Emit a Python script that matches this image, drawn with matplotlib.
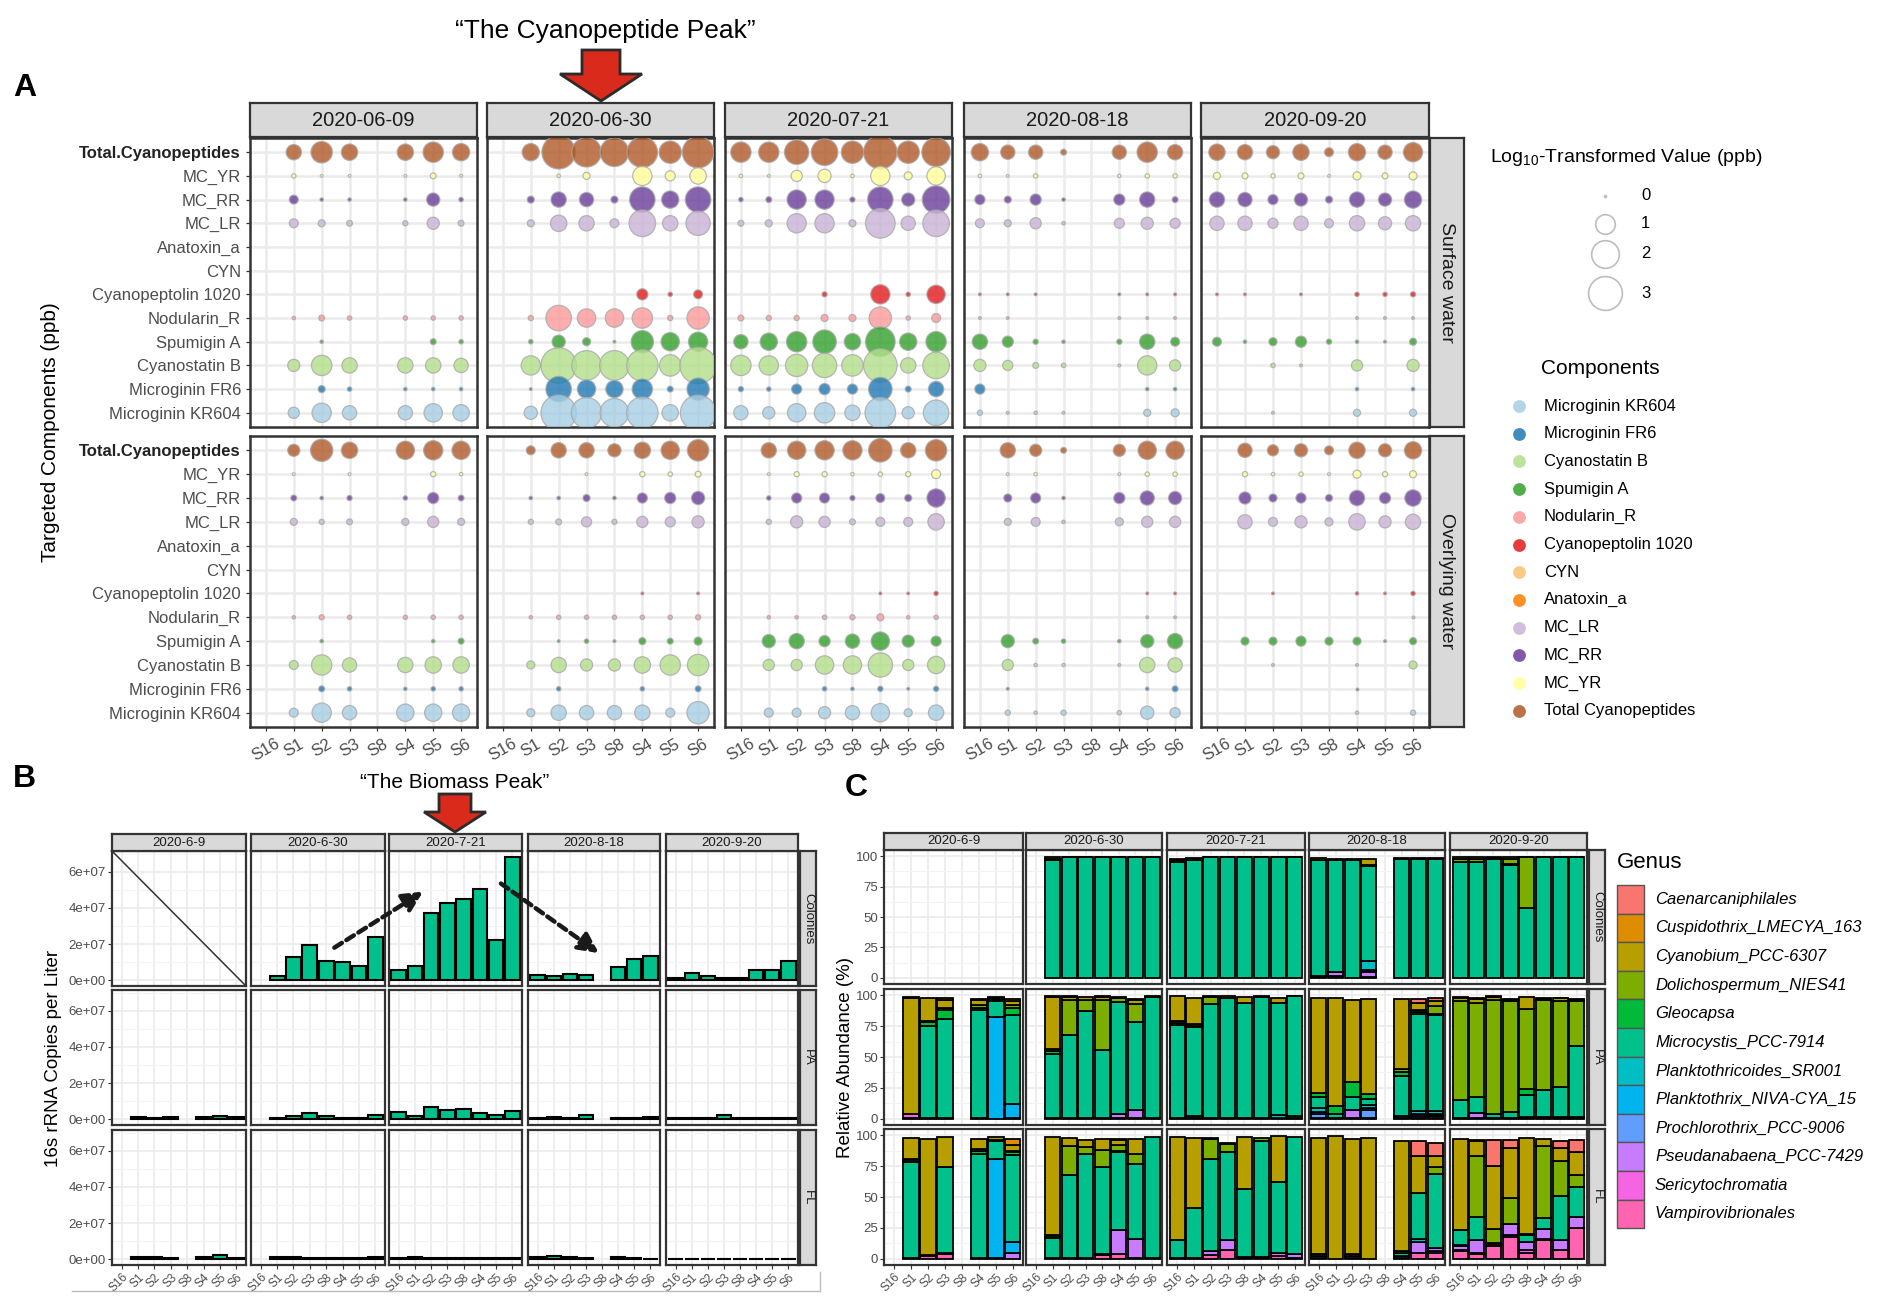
import numpy as np
import matplotlib
matplotlib.use("Agg")
import matplotlib.pyplot as plt
from matplotlib.patches import Polygon, Rectangle

plt.rcParams["font.family"] = ["Liberation Sans", "DejaVu Sans"]
plt.rcParams["mathtext.default"] = "regular"

W, H = 1903, 1301
n = np.nan

sites = ["S16", "S1", "S2", "S3", "S8", "S4", "S5", "S6"]
dates_a = ["2020-06-09", "2020-06-30", "2020-07-21", "2020-08-18", "2020-09-20"]
dates_bc = ["2020-6-9", "2020-6-30", "2020-7-21", "2020-8-18", "2020-9-20"]
waters = ["Surface water", "Overlying water"]
fractions = ["Colonies", "PA", "FL"]

components = ["Total.Cyanopeptides", "MC_YR", "MC_RR", "MC_LR", "Anatoxin_a", "CYN",
              "Cyanopeptolin 1020", "Nodularin_R", "Spumigin A", "Cyanostatin B",
              "Microginin FR6", "Microginin KR604"]
comp_colors = {"Microginin KR604": "#A6CEE3", "Microginin FR6": "#1F78B4",
               "Cyanostatin B": "#B2DF8A", "Spumigin A": "#33A02C",
               "Nodularin_R": "#FB9A99", "Cyanopeptolin 1020": "#E31A1C",
               "CYN": "#FDBF6F", "Anatoxin_a": "#FF7F00", "MC_LR": "#CAB2D6",
               "MC_RR": "#6A3D9A", "MC_YR": "#FFFF99", "Total.Cyanopeptides": "#B15928"}
comp_legend = ["Microginin KR604", "Microginin FR6", "Cyanostatin B", "Spumigin A",
               "Nodularin_R", "Cyanopeptolin 1020", "CYN", "Anatoxin_a", "MC_LR",
               "MC_RR", "MC_YR", "Total.Cyanopeptides"]
size_breaks = [0, 1, 2, 3]

# ---- panel A: log10 values (ppb), site order as in `sites`
surf_0609 = {
    "Total.Cyanopeptides": [n, .61, 1.2, .7, n, .7, 1.08, .78],
    "MC_YR": [n, .04, .01, .01, n, .01, .08, .01],
    "MC_RR": [n, .2, .02, .02, n, .02, .45, .04],
    "MC_LR": [n, .2, .12, .08, n, .06, .38, .08],
    "Nodularin_R": [n, .02, .08, .04, n, .04, .04, .04],
    "Spumigin A": [n, 0, .02, 0, n, 0, .08, .04],
    "Cyanostatin B": [n, .38, 1.08, .61, n, .61, .61, .53],
    "Microginin FR6": [n, 0, .12, .04, n, .02, .02, .02],
    "Microginin KR604": [n, .32, .97, .53, n, .53, .88, .7],
}
surf_0630 = {
    "Total.Cyanopeptides": [n, .78, 2.95, 2.3, 2.15, 2.45, 1.3, 2.6],
    "MC_YR": [n, 0, .02, .12, 0, .97, .26, .7],
    "MC_RR": [n, .12, .61, .53, .12, 1.7, .78, 1.7],
    "MC_LR": [n, .12, .7, .61, .2, 1.85, .61, 1.55],
    "Cyanopeptolin 1020": [n, 0, 0, 0, 0, .32, .04, .2],
    "Nodularin_R": [n, .06, 1.7, .88, .88, 1.08, .06, 1.3],
    "Spumigin A": [n, .04, .45, .16, .01, 1.3, .88, .97],
    "Cyanostatin B": [n, .97, 3.3, 2.3, 2.3, 2.6, 1.2, 3.5],
    "Microginin FR6": [n, .01, 1.7, .88, .78, 1.08, .08, 1.3],
    "Microginin KR604": [n, .45, 3.3, 2.45, 2.15, 2.6, .7, 3.3],
}
surf_0721 = {
    "Total.Cyanopeptides": [1.08, 1.08, 1.55, 1.85, 1.3, 2.95, 1.3, 2.15],
    "MC_YR": [.02, .01, .32, .45, .02, .97, .16, .88],
    "MC_RR": [.04, .08, .97, .97, .06, 1.7, .45, 2.0],
    "MC_LR": [.08, .12, .97, .97, .12, 2.3, .53, 1.85],
    "Cyanopeptolin 1020": [0, 0, 0, .06, 0, .97, .04, .88],
    "Nodularin_R": [.08, .06, .06, .12, .12, 1.3, .04, .2],
    "Spumigin A": [.53, .78, 1.08, 1.45, .7, 2.3, .78, 1.08],
    "Cyanostatin B": [1.08, .97, 1.3, 1.55, 1.2, 2.95, .61, 1.85],
    "Microginin FR6": [.06, .04, .26, .32, .26, 1.45, .08, .61],
    "Microginin KR604": [.53, .38, .88, 1.08, .61, 2.45, .38, 1.7],
}
surf_0818 = {
    "Total.Cyanopeptides": [.78, .53, .53, .08, n, .53, 1.08, .61],
    "MC_YR": [.02, .01, .04, 0, n, .02, .04, .04],
    "MC_RR": [.26, .12, .32, .02, n, .32, .61, .08],
    "MC_LR": [.2, .12, .32, .02, n, .26, .38, .26],
    "Cyanopeptolin 1020": [.01, .01, .01, 0, n, .01, .01, .01],
    "Nodularin_R": [.01, .01, 0, 0, n, .01, .01, .01],
    "Spumigin A": [.61, .32, .06, .02, n, .06, .61, .2],
    "Cyanostatin B": [.38, .26, .08, .04, n, .01, .97, .32],
    "Microginin FR6": [.26, 0, 0, 0, n, 0, .02, .02],
    "Microginin KR604": [.06, .01, .02, .01, n, 0, .12, .16],
}
surf_0920 = {
    "Total.Cyanopeptides": [.7, .61, .45, .7, .2, .78, .53, .97],
    "MC_YR": [.12, .08, .04, .08, .01, .16, .08, .16],
    "MC_RR": [.61, .53, .26, .45, .12, .61, .45, .78],
    "MC_LR": [.53, .53, .26, .53, .2, .61, .45, .61],
    "Cyanopeptolin 1020": [.01, .01, 0, .01, 0, .04, .04, .06],
    "Nodularin_R": [0, 0, 0, 0, 0, .01, .01, .01],
    "Spumigin A": [.2, .02, .16, .32, .06, .02, .01, .12],
    "Cyanostatin B": [0, 0, .04, .01, 0, .32, 0, .38],
    "Microginin FR6": [0, 0, 0, 0, 0, .02, 0, .02],
    "Microginin KR604": [0, 0, .01, 0, 0, .12, 0, .12],
}
over_0609 = {
    "Total.Cyanopeptides": [n, .38, 1.3, .7, n, .88, .97, .88],
    "MC_YR": [n, .01, 0, .01, n, 0, .06, .02],
    "MC_RR": [n, .08, .02, .06, n, .04, .32, .08],
    "MC_LR": [n, .12, .06, .08, n, .12, .32, .12],
    "Nodularin_R": [n, .02, .06, .04, n, .04, .04, .04],
    "Spumigin A": [n, 0, .02, 0, n, 0, .02, .08],
    "Cyanostatin B": [n, .2, 1.08, .53, n, .61, .7, .7],
    "Microginin FR6": [n, 0, .08, .04, n, .02, .04, .04],
    "Microginin KR604": [n, .2, .97, .53, n, .78, .78, .78],
}
over_0630 = {
    "Total.Cyanopeptides": [n, .2, .61, .61, .45, .7, .88, 1.2],
    "MC_YR": [n, 0, 0, .01, 0, .06, .04, .08],
    "MC_RR": [n, .02, .02, .12, .02, .26, .32, .45],
    "MC_LR": [n, .06, .08, .26, .06, .32, .26, .38],
    "Cyanopeptolin 1020": [n, 0, 0, 0, 0, .01, 0, .01],
    "Nodularin_R": [n, .02, .04, .04, .04, .04, .04, .06],
    "Spumigin A": [n, 0, .01, .04, .01, .12, .08, .16],
    "Cyanostatin B": [n, .16, .61, .38, .38, .7, 1.08, 1.2],
    "Microginin FR6": [n, 0, .04, 0, 0, .04, 0, .08],
    "Microginin KR604": [n, .16, .61, .53, .53, .61, .2, 1.3],
}
over_0721 = {
    "Total.Cyanopeptides": [n, .61, .88, .97, .97, 1.45, .61, 1.2],
    "MC_YR": [n, .01, .06, .06, .02, .04, .06, .2],
    "MC_RR": [n, .04, .26, .26, .06, .2, .12, .88],
    "MC_LR": [n, .06, .38, .32, .08, .2, .2, .7],
    "Cyanopeptolin 1020": [n, 0, 0, 0, 0, .01, .01, .04],
    "Nodularin_R": [n, .02, .02, .04, .06, .12, .02, .04],
    "Spumigin A": [n, .45, .61, .32, .53, .88, .38, .26],
    "Cyanostatin B": [n, .32, .32, .88, .88, 1.55, .32, .78],
    "Microginin FR6": [n, 0, 0, .04, .02, .06, .01, .06],
    "Microginin KR604": [n, .2, .2, .38, .53, .88, .16, .61],
}
over_0818 = {
    "Total.Cyanopeptides": [n, .61, .38, .08, n, .38, .88, .88],
    "MC_YR": [n, .01, .02, 0, n, .01, .04, .04],
    "MC_RR": [n, .16, .26, .02, n, .32, .53, .45],
    "MC_LR": [n, .12, .2, .02, n, .16, .32, .32],
    "Cyanopeptolin 1020": [n, 0, 0, 0, n, 0, .01, .01],
    "Nodularin_R": [n, 0, 0, 0, n, 0, .01, .01],
    "Spumigin A": [n, .45, .08, .04, n, .02, .45, .61],
    "Cyanostatin B": [n, .32, .02, .02, n, .01, .61, .53],
    "Microginin FR6": [n, .01, 0, 0, n, 0, .02, .08],
    "Microginin KR604": [n, .06, .02, .06, n, .04, .45, .26],
}
over_0920 = {
    "Total.Cyanopeptides": [n, .53, .32, .45, .2, .7, .45, .78],
    "MC_YR": [n, .06, .02, .04, .01, .16, .06, .12],
    "MC_RR": [n, .38, .16, .26, .12, .61, .32, .7],
    "MC_LR": [n, .53, .2, .38, .16, .7, .38, .61],
    "Cyanopeptolin 1020": [n, 0, .01, 0, 0, .02, .01, .04],
    "Nodularin_R": [n, 0, 0, 0, 0, 0, 0, .01],
    "Spumigin A": [n, .16, .16, .26, .16, .16, .01, .12],
    "Cyanostatin B": [n, 0, .01, 0, 0, .01, 0, .16],
    "Microginin FR6": [n, 0, 0, 0, 0, .01, 0, 0],
    "Microginin KR604": [n, 0, 0, 0, 0, .02, 0, .06],
}
surface = [surf_0609, surf_0630, surf_0721, surf_0818, surf_0920]
overlying = [over_0609, over_0630, over_0721, over_0818, over_0920]

# ---- panel B: 16S rRNA copies per liter
colonies_copies = {
    "2020-6-9": [n, n, n, n, n, n, n, n],
    "2020-6-30": [n, 2.3e6, 1.30e7, 1.97e7, 1.07e7, 1.01e7, 7.7e6, 2.37e7],
    "2020-7-21": [5.7e6, 7.7e6, 3.73e7, 4.29e7, 4.48e7, 5.07e7, 2.24e7, 6.83e7],
    "2020-8-18": [3.1e6, 2.3e6, 3.4e6, 2.7e6, n, 7.1e6, 1.15e7, 1.34e7],
    "2020-9-20": [1.1e6, 3.8e6, 2.3e6, 1.5e6, 1.0e6, 5.9e6, 5.4e6, 1.09e7],
}
pa_copies = {
    "2020-6-9": [n, 1.0e6, 5e5, 1.2e6, n, 1.0e6, 2.0e6, 1.0e6],
    "2020-6-30": [n, 5e5, 2.0e6, 3.5e6, 2.0e6, 5e5, 5e5, 2.5e6],
    "2020-7-21": [4.0e6, 2.0e6, 6.5e6, 5.0e6, 5.5e6, 3.5e6, 2.5e6, 4.5e6],
    "2020-8-18": [5e5, 1.0e6, 5e5, 2.5e6, n, 5e5, 5e5, 1.5e6],
    "2020-9-20": [5e5, 5e5, 5e5, 2.5e6, 5e5, 5e5, 5e5, 5e5],
}
fl_copies = {
    "2020-6-9": [n, 1.0e6, 1.0e6, 5e5, n, 1.0e6, 2.5e6, 8e5],
    "2020-6-30": [n, 1.2e6, 1.2e6, 5e5, 5e5, 5e5, 5e5, 1.0e6],
    "2020-7-21": [8e5, 1.2e6, 7e5, 4e5, 4e5, 4e5, 4e5, 6e5],
    "2020-8-18": [1.5e6, 2.0e6, 1.2e6, 5e5, n, 1.0e6, 5e5, 3e5],
    "2020-9-20": [3e5, 3e5, 3e5, 3e5, 3e5, 3e5, 3e5, 3e5],
}
copies = {"Colonies": colonies_copies, "PA": pa_copies, "FL": fl_copies}

# ---- panel C: relative abundance (%) per genus
genera = ["Caenarcaniphilales", "Cuspidothrix_LMECYA_163", "Cyanobium_PCC-6307",
          "Dolichospermum_NIES41", "Gleocapsa", "Microcystis_PCC-7914",
          "Planktothricoides_SR001", "Planktothrix_NIVA-CYA_15", "Prochlorothrix_PCC-9006",
          "Pseudanabaena_PCC-7429", "Sericytochromatia", "Vampirovibrionales"]
genus_keys = ["Cae", "Cus", "Cyb", "Dol", "Gle", "Mic", "Pts", "Ptx", "Pro", "Pse", "Ser", "Vam"]
genus_colors = ["#F8766D", "#DE8C00", "#B79F00", "#7CAE00", "#00BA38", "#00C08B",
                "#00BFC4", "#00B4F0", "#619CFF", "#C77CFF", "#F564E3", "#FF64B0"]

col_0609 = {}
col_0630 = {"Mic": [0, 97, 99, 99, 99, 99, 99, 99],
            "Dol": [0, 1, 0, 0, 0, 0, 0, 0],
            "Cyb": [0, 1, .5, .5, .5, .5, .5, .5]}
col_0721 = {"Mic": [95, 97, 99, 99, 99, 99, 99, 99],
            "Gle": [1, 0, 0, 0, 0, 0, 0, 0],
            "Dol": [1, .5, 0, 0, 0, 0, 0, 0],
            "Cyb": [1, 1, .5, .5, .5, .5, .5, .5]}
col_0818 = {"Vam": [1, 1.5, 0, 1, 0, 0, 0, 0],
            "Pse": [.5, 3, 0, 3.5, 0, 0, 0, 0],
            "Pro": [0, 0, 0, 1, 0, 0, 0, 0],
            "Ptx": [0, 0, 0, 1, 0, 0, 0, 0],
            "Pts": [0, 0, 0, 7, 0, 0, 0, 0],
            "Mic": [95, 92, 97, 78, 0, 98, 98, 98],
            "Dol": [.5, .5, 0, 1, 0, 0, 0, 0],
            "Cyb": [1.5, 1, .5, 5, 0, .5, .5, .5]}
col_0920 = {"Mic": [95, 95, 98, 93, 57, 99, 99, 99],
            "Gle": [.5, .5, 0, .5, 0, 0, 0, 0],
            "Dol": [2, 2, .5, 4, 42, 0, 0, 0],
            "Cyb": [1.5, 1.5, .5, 1.5, .5, .5, .5, .5]}

pa_0609 = {"Vam": [0, 1, 1, 1, 0, 1, 0, 0],
           "Ser": [0, 2.5, 0, 0, 0, 0, 0, 0],
           "Pse": [0, 0, 0, 0, 0, 0, 0, 1],
           "Ptx": [0, 0, 0, 0, 0, 0, 82, 11],
           "Mic": [0, 0, 74, 80, 0, 87, 13, 72],
           "Gle": [0, 0, 3, 7, 0, 2, 1, 6],
           "Dol": [0, 0, 1, 2, 0, 2, 1, 2],
           "Cyb": [0, 94, 19, 6, 0, 4, 1, 3],
           "Cus": [0, 1, 0, 2, 0, 1, .5, 2]}
pa_0630 = {"Vam": [0, .5, .5, .5, .5, .5, .5, .5],
           "Pse": [0, 0, 0, 0, 0, 3, 7, 0],
           "Mic": [0, 52, 67, 87, 55, 91, 71, 98],
           "Gle": [0, 2, 0, 0, 0, 0, 0, 0],
           "Dol": [0, 2, 29, 9, 41, 3, 14, 0],
           "Cyb": [0, 42, 2, 2, 2, 1, 4, .5],
           "Cus": [0, .5, .5, 0, .5, 0, .5, 0]}
pa_0721 = {"Vam": [1, 1, .5, .5, .5, .5, 1, 1],
           "Pse": [0, 1, 0, 0, 0, 0, 0, 0],
           "Pts": [0, 0, 0, 0, 0, 0, 2, 1],
           "Mic": [75, 72, 92, 97, 93, 98, 91, 97],
           "Gle": [1.5, 1, 0, 0, 0, 0, 0, 0],
           "Dol": [1.5, 2, 6, 0, 0, 0, 0, 0],
           "Cyb": [20, 21, 1, 1.5, 5, .5, 4, .5]}
pa_0818 = {"Vam": [1, 1, .5, 1, 0, .5, 1, 1],
           "Ser": [0, 0, 0, 0, 0, 0, 1, 1],
           "Pse": [0, 0, 7, 0, 0, 1.5, 2, 1],
           "Pro": [3, 0, 0, 6, 0, 0, 0, 0],
           "Ptx": [1.5, 0, 0, 2, 0, 0, 0, 1],
           "Pts": [3, 0, 0, 2, 0, 0, 2, 2],
           "Mic": [9, 3, 10, 5, 0, 33, 79, 78],
           "Gle": [3, 6, 12, 4, 0, 3, 1, 1],
           "Dol": [0, 0, 0, 0, 0, 2, 2, 6],
           "Cyb": [77, 88, 67, 77, 0, 57, 6, 4],
           "Cae": [0, 0, 0, 0, 0, 0, 3, 3]}
pa_0920 = {"Vam": [1, 1, .5, .5, .5, .5, .5, .5],
           "Pse": [0, 4, 0, 0, 1, 1, 1, 1],
           "Mic": [14, 13, 3, 5, 18, 22, 24, 57],
           "Gle": [0, 0, 0, 0, 5, 0, 0, 0],
           "Dol": [80, 76, 93, 90, 64, 73, 70, 37],
           "Cyb": [3, 3, 2, 1, 10, .5, 2, 1],
           "Cus": [.5, .5, .5, .5, 0, .5, .5, .5]}

fl_0609 = {"Vam": [0, .5, 2, 3.5, 0, 1, .5, 0],
           "Ser": [0, 0, 1, 1, 0, 0, 0, 0],
           "Pse": [0, 0, 0, 0, 0, 0, 0, 5],
           "Ptx": [0, 0, 0, 0, 0, 0, 80, 9],
           "Mic": [0, 78, 0, 70, 0, 84, 15, 70],
           "Gle": [0, 1, 0, 0, 0, 2, .5, 2],
           "Dol": [0, 1, 0, 0, 0, 2, .5, 1],
           "Cyb": [0, 17, 94, 24, 0, 8, 2, 5],
           "Cus": [0, 0, 0, 0, 0, 0, 0, 5]}
fl_0630 = {"Vam": [0, .5, .5, .5, 3, 4, 1, .5],
           "Pse": [0, 0, 0, 0, 1, 19, 15, 0],
           "Mic": [0, 16, 67, 84, 70, 63, 61, 98],
           "Gle": [0, 1, 0, 0, 0, 1, 0, 0],
           "Dol": [0, 2, 24, 6, 14, 5, 8, 0],
           "Cyb": [0, 79, 6, 6, 9, 4, 12, 0],
           "Cus": [0, 0, 0, 0, 0, 1, 0, 0]}
fl_0721 = {"Vam": [.5, .5, 3, 7, .5, .5, 2, .5],
           "Ser": [0, 0, 0, 0, 0, .5, 0, 0],
           "Pse": [0, 0, 3, 8, 1, .5, 3, 3],
           "Mic": [15, 41, 75, 71, 55, 94, 57, 95],
           "Dol": [0, 0, 16, 7, 0, 2, 0, 0],
           "Cyb": [83, 56, 1, 1, 42, 0, 37, 0]}
fl_0818 = {"Vam": [1, 0, 1, 0, 0, 1, 5, 5],
           "Ser": [0, 0, 1, 0, 0, 0, 0, 1.5],
           "Pse": [1, 0, 2, 0, 0, 0, 9, 2],
           "Pts": [0, 0, 0, 0, 0, 1, 2, 0],
           "Mic": [2, 0, 0, 0, 0, 3, 37, 60],
           "Gle": [0, 0, 0, 0, 0, 1, 0, 0],
           "Dol": [0, 0, 0, 0, 0, 0, 0, 6],
           "Cyb": [94, 99, 93, 98, 0, 89, 30, 9],
           "Cae": [0, 0, 0, 0, 0, 0, 12, 10]}
fl_0920 = {"Vam": [6, 4, 10, 18, 5, 15, 7, 25],
           "Ser": [1, 1, 1, 1, 2, 1, 0, 0],
           "Pse": [3, 10, 2, 9, 7, 8, 8, 9],
           "Pts": [1, 0, 0, 0, 0, 0, 0, 0],
           "Mic": [12, 19, 0, 0, 5, 9, 36, 24],
           "Dol": [0, 49, 11, 21, 1, 58, 28, 10],
           "Cyb": [74, 12, 51, 41, 78, 6, 11, 18],
           "Cus": [0, 1.5, 0, 0, 0, 0, 0, 0],
           "Cae": [0, 0, 21, 6, 0, 0, 5, 10]}
abundance = {"Colonies": [col_0609, col_0630, col_0721, col_0818, col_0920],
             "PA": [pa_0609, pa_0630, pa_0721, pa_0818, pa_0920],
             "FL": [fl_0609, fl_0630, fl_0721, fl_0818, fl_0920]}

# ---- layout (pixels)
A_cols = [(250, 477), (487, 714), (725, 952), (964, 1191), (1201, 1429)]
A_rows = [(138, 427), (436, 727)]
B_cols = [(112, 246), (251, 385), (389, 522), (528, 660), (666, 798)]
B_rows = [(851, 986), (990, 1125), (1130, 1265)]
C_cols = [(884, 1023), (1026, 1162), (1167, 1305), (1309, 1445), (1450, 1587)]
C_rows = [(850, 984), (989, 1125), (1129, 1265)]

BORDER = "#333333"
GRID = "#EBEBEB"
TICKCOL = "#4D4D4D"

fig = plt.figure(figsize=(W / 100, H / 100), dpi=100)
fig.patch.set_facecolor("white")


def px_axes(x0, y0, x1, y1, **kw):
    return fig.add_axes([x0 / W, 1 - y1 / H, (x1 - x0) / W, (y1 - y0) / H], **kw)


def strip(x0, y0, x1, y1, text, size, rot=0):
    a = px_axes(x0, y0, x1, y1)
    a.set_facecolor("#D9D9D9")
    a.set_xticks([])
    a.set_yticks([])
    for s in a.spines.values():
        s.set_color(BORDER)
        s.set_linewidth(1.6)
    a.text(0.5, 0.5, text, transform=a.transAxes, ha="center", va="center",
           rotation=rot, size=size, color="#1A1A1A")


def frame(ax, lw=1.8):
    for s in ax.spines.values():
        s.set_color(BORDER)
        s.set_linewidth(lw)


def bubble_size(v):
    d_px = np.sqrt(4 + 380 * np.asarray(v, float))
    return (d_px * 0.72) ** 2


def small_xlabels(ax):
    ax.set_xticklabels(sites, rotation=45, ha="right", va="top",
                       rotation_mode="anchor", size=8.5)
    ax.tick_params(axis="x", pad=1.5)


xpos = np.arange(1, 9)

# ================= panel A =================
for r, block in enumerate([surface, overlying]):
    y0, y1 = A_rows[r]
    for c, data in enumerate(block):
        x0, x1 = A_cols[c]
        ax = px_axes(x0, y0, x1, y1)
        ax.set_xlim(0.43, 8.57)
        ax.set_ylim(0.4, 12.6)
        for xv in xpos:
            ax.axvline(xv, color=GRID, lw=1.8, zorder=0)
        for yv in range(1, 13):
            ax.axhline(yv, color=GRID, lw=1.8, zorder=0)
        for k, comp in enumerate(components):
            vals = np.array(data.get(comp, [0] * 8), float)
            m = np.nan_to_num(vals) > 0
            if m.any():
                ax.scatter(xpos[m], np.full(m.sum(), 12 - k), s=bubble_size(vals[m]),
                           c=comp_colors[comp], alpha=0.8, edgecolors="#A8A8A8",
                           linewidths=0.9, zorder=3)
        frame(ax)
        ax.set_xticks(xpos)
        ax.set_yticks(12 - np.arange(12))
        ax.tick_params(length=3, color=BORDER, width=0.9)
        if c == 0:
            ax.set_yticklabels(components, size=12, color=TICKCOL)
            ax.get_yticklabels()[0].set_fontweight("bold")
            ax.get_yticklabels()[0].set_color("#222222")
        else:
            ax.tick_params(left=False, labelleft=False)
        if r == 1:
            ax.set_xticklabels(sites, rotation=30, size=12, color=TICKCOL, ha="center")
        else:
            ax.tick_params(bottom=False, labelbottom=False)
        if r == 0:
            strip(x0, 103, x1, 137, dates_a[c], 14.5)
    strip(1430, y0, 1464, y1, waters[r], 14, rot=-90)

# ================= panel B =================
B_axes = {}
for r, frac in enumerate(fractions):
    y0, y1 = B_rows[r]
    for c, d in enumerate(dates_bc):
        x0, x1 = B_cols[c]
        ax = px_axes(x0, y0, x1, y1)
        B_axes[(r, c)] = ax
        ax.set_xlim(0.4, 8.6)
        ax.set_ylim(-3.2e6, 7.15e7)
        ax.set_xticks(xpos)
        ax.set_yticks([0, 2e7, 4e7, 6e7])
        ax.set_yticks([1e7, 3e7, 5e7, 7e7], minor=True)
        ax.grid(True, which="major", color=GRID, lw=1.2)
        ax.grid(True, which="minor", axis="y", color="#F3F3F3", lw=0.8)
        ax.set_axisbelow(True)
        ax.tick_params(which="minor", length=0)
        ax.tick_params(which="major", length=3, color=BORDER, width=0.8,
                       labelcolor=TICKCOL, labelsize=9.5, pad=1.5)
        vals = np.array(copies[frac][d], float)
        m = ~np.isnan(vals)
        if m.any():
            ax.bar(xpos[m], vals[m], width=0.9, color="#00C08B", edgecolor="black",
                   linewidth=1.5, zorder=3)
        elif frac == "Colonies":
            ax.plot([0, 1], [1, 0], transform=ax.transAxes, color="#333333", lw=1.1)
        frame(ax, 1.6)
        if c == 0:
            ax.set_yticklabels(["0e+00", "2e+07", "4e+07", "6e+07"])
        else:
            ax.tick_params(left=False, labelleft=False)
        if r == 2:
            small_xlabels(ax)
        else:
            ax.tick_params(bottom=False, labelbottom=False)
        if r == 0:
            strip(x0, 834, x1, 851, d, 9.5)
    strip(800, y0, 816, y1, frac, 9.5, rot=-90)

# ================= panel C =================
for r, frac in enumerate(fractions):
    y0, y1 = C_rows[r]
    for c, d in enumerate(dates_bc):
        x0, x1 = C_cols[c]
        ax = px_axes(x0, y0, x1, y1)
        ax.set_xlim(0.4, 8.6)
        ax.set_ylim(-5, 105)
        ax.set_xticks(xpos)
        ax.set_yticks([0, 25, 50, 75, 100])
        ax.set_yticks([12.5, 37.5, 62.5, 87.5], minor=True)
        ax.grid(True, which="major", color=GRID, lw=1.2)
        ax.grid(True, which="minor", axis="y", color="#F3F3F3", lw=0.8)
        ax.set_axisbelow(True)
        ax.tick_params(which="minor", length=0)
        ax.tick_params(which="major", length=3, color=BORDER, width=0.8,
                       labelcolor=TICKCOL, labelsize=9.5, pad=1.5)
        data = abundance[frac][c]
        for i in range(8):
            bottom = 0.0
            for g in reversed(range(len(genus_keys))):
                v = data.get(genus_keys[g], [0] * 8)[i]
                if v > 0:
                    ax.bar(xpos[i], v, bottom=bottom, width=0.9, color=genus_colors[g],
                           edgecolor="black", linewidth=1.3, zorder=3)
                    bottom += v
        frame(ax, 1.6)
        if c != 0:
            ax.tick_params(left=False, labelleft=False)
        if r == 2:
            small_xlabels(ax)
        else:
            ax.tick_params(bottom=False, labelbottom=False)
        if r == 0:
            strip(x0, 833, x1, 850, d, 9.5)
    strip(1589, y0, 1605, y1, frac, 9.5, rot=-90)

# ================= overlay: labels, legends, arrows =================
ov = fig.add_axes([0, 0, 1, 1], zorder=10)
ov.set_xlim(0, W)
ov.set_ylim(H, 0)
ov.axis("off")
ov.patch.set_alpha(0)

for lab, (lx, ly) in {"A": (25, 88), "B": (24, 779), "C": (856, 788)}.items():
    ov.text(lx, ly, lab, size=23, weight="bold", ha="center", va="center")

ov.text(51, (A_rows[0][0] + A_rows[1][1]) / 2, "Targeted Components (ppb)", rotation=90,
        ha="center", va="center", size=15)
ov.text(54, (B_rows[0][0] + B_rows[2][1]) / 2, "16s rRNA Copies per Liter", rotation=90,
        ha="center", va="center", size=13.5)
ov.text(846, (C_rows[0][0] + C_rows[2][1]) / 2, "Relative Abundance (%)", rotation=90,
        ha="center", va="center", size=13.5)

ov.text(605, 31, "\u201cThe Cyanopeptide Peak\u201d", ha="center", va="center", size=19)
ov.text(455, 782, "\u201cThe Biomass Peak\u201d", ha="center", va="center", size=15)


def block_arrow(cx, top, tip, shaft_w, head_w, head_len):
    pts = [(cx - shaft_w / 2, top), (cx + shaft_w / 2, top),
           (cx + shaft_w / 2, tip - head_len), (cx + head_w / 2, tip - head_len),
           (cx, tip), (cx - head_w / 2, tip - head_len), (cx - shaft_w / 2, tip - head_len)]
    ov.add_patch(Polygon(pts, closed=True, fc="#D92A1C", ec="#2B2B2B", lw=2, zorder=5))


block_arrow(601, 50, 101, 38, 82, 27)
block_arrow(455, 794, 832, 32, 62, 20)


def to_ov(ax, xy):
    return ov.transData.inverted().transform(ax.transData.transform(xy))


# dashed trend arrows across the colonies facets
for (ca, pa), (cb, pb) in [((1, (5.5, 1.8e7)), (2, (2.5, 4.9e7))),
                           ((2, (7.3, 5.35e7)), (3, (4.8, 1.5e7)))]:
    p0 = to_ov(B_axes[(0, ca)], pa)
    p1 = to_ov(B_axes[(0, cb)], pb)
    ov.annotate("", xy=p1, xytext=p0,
                arrowprops=dict(arrowstyle="-|>", lw=3.2, ls=(0, (2, 1.2)), color="#1A1A1A",
                                mutation_scale=30, shrinkA=0, shrinkB=0))

# size legend (panel A)
ov.text(1490, 158, "Log$_{10}$-Transformed Value (ppb)", size=14, ha="left", va="center")
for k, v in enumerate(size_breaks):
    yy = [196, 224, 254, 293][k]
    ov.scatter([1605], [yy], s=bubble_size(v), facecolor="white", edgecolor="#BDBDBD",
               linewidths=1.2, zorder=5)
    ov.text(1641, yy, str(v), size=12, ha="left", va="center")

ov.text(1541, 368, "Components", size=15, ha="left", va="center")
for k, comp in enumerate(comp_legend):
    yy = 406 + k * 27.7
    ov.scatter([1519], [yy], s=85, color=comp_colors[comp], alpha=0.85, lw=0, zorder=5)
    ov.text(1544, yy, comp.replace(".", " "), size=12, ha="left", va="center")

# genus legend (panel C)
ov.text(1617, 863, "Genus", size=16, ha="left", va="center")
for k, g in enumerate(genera):
    ty = 885 + k * 28.6
    ov.add_patch(Rectangle((1617, ty), 27, 28.6, fc=genus_colors[k], ec="#555555", lw=1.0))
    ov.text(1655, ty + 14.3, g, size=12, style="italic", ha="left", va="center")

# faint trim line under panel B
ov.plot([72, 820, 820], [1291, 1291, 1272], color="#BBBBBB", lw=1)

fig.savefig("out.png", dpi=100)
